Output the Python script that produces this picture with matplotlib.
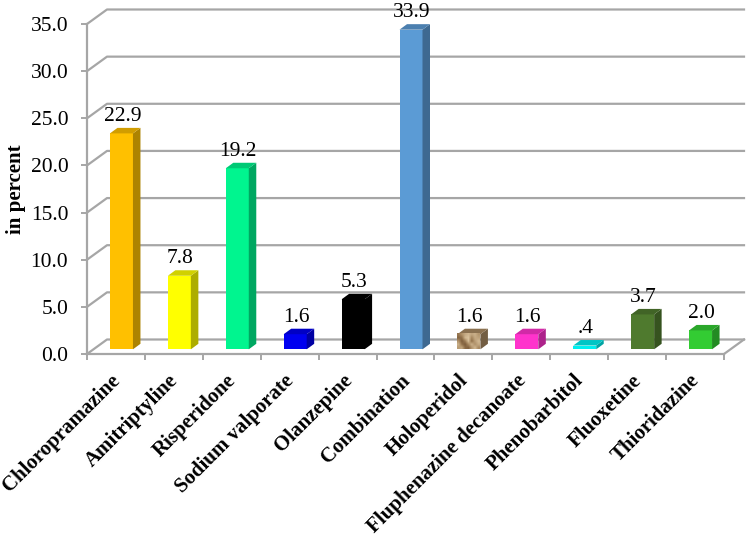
import matplotlib
matplotlib.use("Agg")
import matplotlib.pyplot as plt
from matplotlib.patches import Polygon
from matplotlib.colors import to_rgb, LinearSegmentedColormap
import numpy as np

plt.rcParams['font.family'] = ['Liberation Serif', 'DejaVu Serif']

drugs = ["Chloropramazine", "Amitriptyline", "Risperidone", "Sodium valporate",
         "Olanzepine", "Combination", "Holoperidol", "Fluphenazine decanoate",
         "Phenobarbitol", "Fluoxetine", "Thioridazine"]
percent = [22.9, 7.8, 19.2, 1.6, 5.3, 33.9, 1.6, 1.6, 0.4, 3.7, 2.0]
value_labels = ["22.9", "7.8", "19.2", "1.6", "5.3", "33.9", "1.6", "1.6", ".4", "3.7", "2.0"]
colors = ["#FFC000", "#FFFF00", "#00F58F", "#0000F0", "#000000", "#5B9BD5",
          "#A98A62", "#FF33CC", "#00F0F0", "#4F7A2E", "#33CC33"]
y_ticks = [0, 5, 10, 15, 20, 25, 30, 35]

# rough wood-like shading on the Holoperidol bar (0 dark, 1 light)
wood_shades = [[0.35, 0.55, 0.75, 0.85, 0.70, 0.80, 0.60],
               [0.20, 0.30, 0.85, 0.95, 0.45, 0.75, 0.70],
               [0.55, 0.15, 0.40, 0.90, 0.30, 0.65, 0.85],
               [0.80, 0.30, 0.15, 0.50, 0.80, 0.55, 0.75],
               [0.65, 0.70, 0.25, 0.20, 0.60, 0.85, 0.50]]

W, H = 750, 536
fig = plt.figure(figsize=(W / 100, H / 100), dpi=100)
ax = fig.add_axes([87 / W, 1 - 354 / H, (724 - 87) / W, (354 - 24) / H])
ax.patch.set_visible(False)

n = len(drugs)

# one pixel in data units, the fake 3d depth is done with these
px = n / (724 - 87)
py = 35 / (354 - 24)

grid = "#A6A6A6"
wall_dx, wall_dy = 20 * px, 14.5 * py

# back wall and floor
for t in y_ticks:
    ax.plot([0, wall_dx, n + wall_dx], [t, t + wall_dy, t + wall_dy], color=grid, lw=1.6,
            clip_on=False, zorder=1)
ax.plot([n, n + wall_dx], [0, wall_dy], color=grid, lw=1.6, clip_on=False, zorder=1)

for side in ["top", "right"]:
    ax.spines[side].set_visible(False)
for side in ["left", "bottom"]:
    ax.spines[side].set_color(grid)
    ax.spines[side].set_linewidth(1.6)

# bars
bar_w = 23 * px
base = 4.7 * py
shift = 5.5 * px
dx, dy = 7.5 * px, 5.5 * py
xs = np.arange(n) + 0.5 + shift
ax.bar(xs, percent, width=bar_w, bottom=base, color=colors, zorder=3, linewidth=0)

for x, v, c, lab in zip(xs, percent, colors, value_labels):
    r, g, b = to_rgb(c)
    x0, x1 = x - bar_w / 2, x + bar_w / 2
    top = v + base
    side_col = (r * 0.68, g * 0.68, b * 0.68)
    top_col = (r * 0.82, g * 0.82, b * 0.82)
    ax.add_patch(Polygon([(x1, base), (x1 + dx, base + dy), (x1 + dx, top + dy), (x1, top)],
                         closed=True, fc=side_col, ec="none", zorder=3, clip_on=False))
    ax.add_patch(Polygon([(x0, top), (x1, top), (x1 + dx, top + dy), (x0 + dx, top + dy)],
                         closed=True, fc=top_col, ec="none", zorder=3, clip_on=False))
    ax.text(x + 1 * px, top + dy + 2 * py, lab, ha="center", va="bottom", fontsize=15.5,
            color="black", zorder=4, clip_on=False)

wood = LinearSegmentedColormap.from_list("wood", ["#6B4A2A", "#A98A62", "#E0C9A4"])
k = drugs.index("Holoperidol")
ax.imshow(wood_shades, cmap=wood, vmin=0, vmax=1, aspect="auto", interpolation="bilinear",
          extent=[xs[k] - bar_w / 2, xs[k] + bar_w / 2, base, base + percent[k]], zorder=3.5)

ax.set_xlim(0, n)
ax.set_ylim(0, 35)

ax.set_yticks(y_ticks)
ax.set_yticklabels(["%.1f" % t for t in y_ticks], fontsize=15.5)
ax.set_xticks(range(n + 1))
ax.set_xticklabels([""] * (n + 1))
ax.tick_params(axis="both", color=grid, width=1.4, length=4.5, pad=9)

for i, name in enumerate(drugs):
    ax.annotate(name, (i + 0.5, 0), xytext=(-4, -12), textcoords="offset points",
                rotation=45, rotation_mode="anchor", ha="right", va="top",
                fontsize=15, fontweight="bold", annotation_clip=False)

fig.text(16 / W, 1 - 189 / H, "in percent", rotation=90, ha="center", va="center",
         fontsize=15, fontweight="bold")

fig.savefig("out.png", dpi=100)
